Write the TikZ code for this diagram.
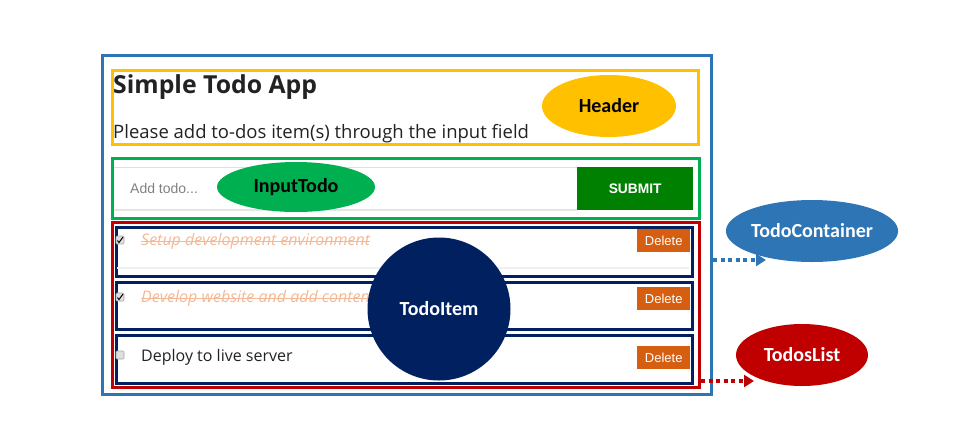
\documentclass[tikz,border=0pt]{standalone}
\usepackage{fontspec}
\setmainfont{Open Sans}
\newfontfamily\lab{Carlito}
\newfontfamily\arial{Liberation Sans}
\usetikzlibrary{arrows.meta,shapes.geometric}
\definecolor{cblue}{HTML}{2E75B6}
\definecolor{cyellow}{HTML}{FFC000}
\definecolor{cgreen}{HTML}{00B050}
\definecolor{cbtn}{HTML}{008000}
\definecolor{cred}{HTML}{C00000}
\definecolor{cnavy}{HTML}{002060}
\definecolor{corange}{HTML}{D55E10}
\definecolor{cdone}{HTML}{F4B894}
\definecolor{ctext}{HTML}{222222}
\tikzset{
  frame/.style={draw, line width=3pt, anchor=north west, inner sep=0pt},
  itembox/.style={frame, draw=cnavy, minimum width=576pt, minimum height=48pt},
  delbtn/.style={fill=corange, text=white, font=\arial\fontsize{13}{13}\selectfont, minimum width=53pt, minimum height=23pt, inner sep=0pt, anchor=north west},
  lbl/.style={ellipse, inner sep=0pt, font=\lab\bfseries\fontsize{20}{20}\selectfont},
  chk/.style={draw=gray!70, fill=gray!25, rounded corners=1pt, minimum size=8pt, inner sep=0pt, line width=0.6pt},
  itemtxt/.style={anchor=west, inner sep=0pt, font=\fontsize{16}{16}\selectfont\itshape},
  dotarrow/.style={line width=3.5pt, dash pattern=on 4pt off 3.5pt, -{Triangle[length=10pt,width=12pt]}},
}
\begin{document}
\begin{tikzpicture}[x=1pt,y=-1pt]
\useasboundingbox (0,0) rectangle (978,440);
% outer container
\node[frame, draw=cblue, minimum width=609pt, minimum height=339pt] (container) at (101,54) {};
% header
\node[frame, draw=cyellow, minimum width=586pt, minimum height=74pt] (header) at (111,69) {};
\node[anchor=base west, inner sep=0pt, text=ctext, font=\bfseries\fontsize{24.8}{24.8}\selectfont] (title) at (113,93) {Simple Todo App};
\node[anchor=base west, inner sep=0pt, text=ctext, font=\fontsize{18.5}{18.5}\selectfont] (subtitle) at (113,138) {Please add to-dos item(s) through the input field};
\node[lbl, fill=cyellow, minimum width=134pt, minimum height=62pt, text=black] (hlabel) at (609,106) {Header};
% input
\node[frame, draw=cgreen, minimum width=587pt, minimum height=60pt] (input) at (111,157) {};
\draw[gray!25, line width=0.8pt] (114,167) -- (577,167);
\draw[gray!20, line width=1.5pt] (114,210) -- (577,210);
\node[anchor=west, inner sep=0pt, text=gray, font=\arial\fontsize{14}{14}\selectfont] (placeholder) at (130,188) {Add todo...};
\node[fill=cbtn, anchor=north west, minimum width=116pt, minimum height=43pt, inner sep=0pt, text=white, font=\arial\bfseries\fontsize{13.8}{13.8}\selectfont] (submit) at (577,167) {SUBMIT};
\node[lbl, fill=cgreen, minimum width=158pt, minimum height=50pt, text=black] (ilabel) at (296,187) {InputTodo};
% todos list
\node[frame, draw=cred, minimum width=587pt, minimum height=165pt] (list) at (111,221) {};
\node[itembox, minimum height=49pt] (item1) at (115,226) {};
\node[itembox, minimum height=47pt] (item2) at (115,281) {};
\node[itembox, minimum height=48pt] (item3) at (115,334) {};
\draw[gray!12, line width=1.5pt] (117,268) -- (689,268);
% checkboxes
\node[chk] (cb1) at (120,240) {};
\node[chk] (cb2) at (120,297) {};
\node[chk] (cb3) at (120,355) {};
\draw[black, line width=1pt] (117.5,240.5) -- (119,242.5) -- (123,237);
\draw[black, line width=1pt] (117.5,297.5) -- (119,299.5) -- (123,294);
% item texts
\node[itemtxt, text=cdone] (t1) at (141,241) {Setup development environment};
\draw[cdone, line width=1pt] (t1.west) -- (t1.east);
\node[itemtxt, text=cdone] (t2) at (141,298) {Develop website and add content};
\draw[cdone, line width=1pt] (t2.west) -- (t2.east);
\node[itemtxt, text=ctext, font=\fontsize{16}{16}\selectfont\upshape] (t3) at (141,357) {Deploy to live server};
% delete buttons
\node[delbtn] (d1) at (637,229) {Delete};
\node[delbtn] (d2) at (637,287) {Delete};
\node[delbtn] (d3) at (637,346) {Delete};
% TodoItem circle
\node[circle, fill=cnavy, minimum size=143pt, inner sep=0pt, text=white, font=\lab\bfseries\fontsize{20}{20}\selectfont] (tilabel) at (439,309) {TodoItem};
% side labels
\node[lbl, fill=cblue, minimum width=172pt, minimum height=62pt, text=white] (tclabel) at (812,231) {TodoContainer};
\node[lbl, fill=cred, minimum width=132pt, minimum height=62pt, text=white] (tllabel) at (802,355) {TodosList};
% arrows
\coordinate (a1s) at (container.east |- 0,260);
\coordinate (a1e) at (766,260);
\coordinate (a2s) at (list.east |- 0,381);
\coordinate (a2e) at (754,381);
\draw[dotarrow, cblue] (a1s) -- (a1e);
\draw[dotarrow, cred] (a2s) -- (a2e);
\end{tikzpicture}
\end{document}
